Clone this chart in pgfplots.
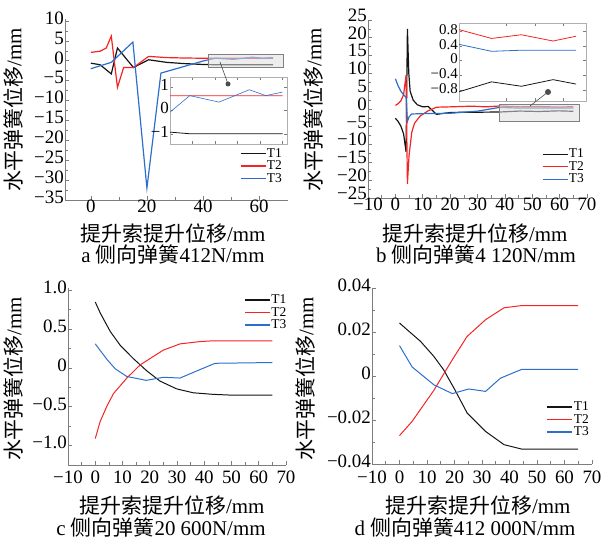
\documentclass[border=0pt]{standalone}
\usepackage{fontspec}
\setmainfont{Liberation Serif}
\newfontfamily\cjk{Noto Sans CJK SC}
\usepackage{pgfplots}
\pgfplotsset{compat=1.18}
\definecolor{cT1}{RGB}{20,20,20}
\definecolor{cT2}{RGB}{245,35,35}
\definecolor{cT3}{RGB}{45,110,205}
\definecolor{axgray}{RGB}{125,125,125}
\definecolor{ingray}{RGB}{175,175,175}
\pgfplotsset{
 mainax/.style={
  scale only axis, anchor=south west,
  axis x line*=bottom, axis y line*=left,
  axis line style={draw=axgray, line width=0.7pt},
  tick align=inside,
  major tick length=4bp, minor tick length=2.5bp,
  every tick/.style={draw=axgray, line width=0.6pt},
  minor tick num=1,
  scaled ticks=false,
  tick label style={font=\fontsize{19}{19}\selectfont, text=black, text height=0.66em, text depth=0pt},
  yticklabel style={inner sep=1bp},
  xticklabel style={inner sep=1bp, yshift=-5bp},
  legend style={draw=none, fill=none, inner sep=0pt, outer sep=0pt,
    font=\fontsize{13.5}{13.5}\selectfont, nodes={inner sep=0.8bp},
    row sep=0.5bp},
  legend cell align=left,
  legend image code/.code={\draw[##1, line width=1.1pt] (0bp,0bp) -- (25bp,0bp);},
 },
 inax/.style={
  scale only axis, anchor=south west,
  axis background/.style={fill=white},
  axis line style={draw=ingray, line width=0.6pt},
  tick align=inside,
  major tick length=3bp,
  every tick/.style={draw=axgray, line width=0.5pt},
  xticklabels={},
  scaled ticks=false,
  tick label style={font=\fontsize{17}{17}\selectfont, text=black, text height=0.66em, text depth=0pt},
  yticklabel style={inner sep=1bp},
 },
 l1/.style={cT1, line width=1.2pt},
 l2/.style={cT2, line width=1.2pt},
 l3/.style={cT3, line width=1.2pt},
 s1/.style={cT1, line width=1.0pt},
 s2/.style={cT2, line width=1.0pt},
 s3/.style={cT3, line width=1.0pt},
}
\pgfplotstableread{
x y
0 -0.6
3.3 -1.0
7.3 -3.3
9.5 3.2
15.2 -1.7
20.6 0.25
27 -0.4
33 -0.7
40 -0.93
44.4 -1.0
50.9 -1.0
57.6 -1.0
65 -1.0
}\aone
\pgfplotstableread{
x y
0 2.1
3.3 2.4
5.5 3.2
7.3 6.2
9.5 -6.7
11.7 -1.7
15.2 -1.7
20.6 1.1
27 0.8
33 0.7
40 0.63
65 0.63
}\atwo
\pgfplotstableread{
x y
0 -2.0
7.3 -0.4
15 4.7
20 -32
25 -3.1
40 -0.07
44.4 0.64
50.9 0.36
57.6 0.89
61.3 0.64
65 0.79
}\athree
\pgfplotstableread{
x y
0 -2.6
1 -3.5
2 -4.8
3 -7
3.9 -12
4.4 22.5
4.9 10
5.4 5
6.5 2.5
8 1.2
10 0.6
12 0.7
15 -1.5
20 -1.0
25 -0.9
30 -0.9
38 -0.85
45.5 -0.58
52.4 -0.7
59.7 -0.52
65 -0.64
}\bone
\pgfplotstableread{
x y
0 1
1 1.5
2 2.3
3 4
3.9 9.5
4.4 -21
5 -13
6 -6.5
7 -4
9 -2
12 -0.5
15 0.5
20 0.6
28 0.8
33 0.6
38 0.84
45.5 0.6
52.4 0.7
59.7 0.53
65 0.66
}\btwo
\pgfplotstableread{
x y
0 8.5
1 6.5
2 5
3 4
3.9 3.3
4.4 -3.5
5 -2.2
6 -1.4
10 -1.3
20 -1.2
30 -0.6
38 0.44
45.5 0.25
52.4 0.28
59.7 0.28
65 0.28
}\bthree
\begin{document}
\begin{tikzpicture}
\useasboundingbox (0bp,0bp) rectangle (605bp,543bp);
% ---------- panel a ----------
\begin{axis}[mainax, at={(65bp,343bp)}, width=223bp, height=181bp,
  xmin=-9.2, xmax=70.3, ymin=-35, ymax=10.5,
  xtick={0,20,40,60}, xticklabels={0,20,40,60},
  ytick={-35,-30,-25,-20,-15,-10,-5,0,5,10},
  yticklabels={−35,−30,−25,−20,−15,−10,−5,0,5,10},
  legend style={at={(rel axis cs:0.785,0.29)}, anchor=north west}]
\addplot[l1] table {\aone};
\addplot[l2] table {\atwo};
\addplot[l3] table {\athree};
\legend{T1,T2,T3}
\draw[draw=gray, fill=gray!25, fill opacity=0.55] (axis cs:41.9,-1.5) rectangle (axis cs:68.7,1.6);
\end{axis}
\begin{axis}[inax, at={(170bp,399bp)}, width=117bp, height=67bp,
  xmin=40, xmax=66, ymin=-1.44, ymax=1.44,
  xtick={45,50,55,60,65}, ytick={-1,0,1}, yticklabels={−1,0,1}]
\addplot[cT1, line width=0.8pt] table {\aone};
\addplot[cT2, line width=0.8pt] table {\atwo};
\addplot[cT3, line width=0.6pt] table {\athree};
\end{axis}
\draw[gray!60!black, line width=0.6pt] (220bp,481bp) -- (228bp,459bp);
\fill[gray!60!black] (228bp,459bp) circle (2.5bp);
% ---------- panel b ----------
\begin{axis}[mainax, at={(368bp,345bp)}, width=219bp, height=178bp,
  xmin=-10, xmax=70, ymin=-25, ymax=25,
  yticklabel style={yshift=2bp},
  xtick={-10,0,10,20,30,40,50,60,70}, xticklabels={−10,0,10,20,30,40,50,60,70},
  ytick={-25,-20,-15,-10,-5,0,5,10,15,20,25},
  yticklabels={−25,−20,−15,−10,−5,0,5,10,15,20,25},
  legend style={at={(rel axis cs:0.795,0.28)}, anchor=north west}]
\addplot[l1] table {\bone};
\addplot[l2] table {\btwo};
\addplot[l3] table {\bthree};
\legend{T1,T2,T3}
\draw[draw=gray, fill=gray!25, fill opacity=0.55] (axis cs:37.9,-3.4) rectangle (axis cs:67.3,1.4);
\end{axis}
\begin{axis}[inax, at={(459bp,442bp)}, width=127bp, height=78bp,
  xmin=38, xmax=67.3, ymin=-1.1, ymax=1.02,
  tick label style={font=\fontsize{15}{15}\selectfont},
  xtick={49,55.5,62}, ytick={-0.8,-0.4,0,0.4,0.8}, yticklabels={−0.8,−0.4,0,0.4,0.8}]
\addplot[cT1, line width=0.8pt] table {\bone};
\addplot[cT2, line width=0.8pt] table {\btwo};
\addplot[cT3, line width=0.8pt] table {\bthree};
\end{axis}
\draw[gray!60!black, line width=0.6pt] (530bp,437bp) -- (548bp,451bp);
\fill[gray!60!black] (548bp,451bp) circle (3bp);
% ---------- panel c ----------
\begin{axis}[mainax, at={(68bp,78bp)}, width=218bp, height=177bp,
  xmin=-10, xmax=70, ymin=-1.25, ymax=1.03,
  xticklabel style={yshift=-6bp},
  xtick={-10,0,10,20,30,40,50,60,70}, xticklabels={−10,0,10,20,30,40,50,60,70},
  ytick={-1,-0.5,0,0.5,1}, yticklabels={−1.0,−0.5,0,0.5,1.0},
  legend style={at={(rel axis cs:0.81,0.966)}, anchor=north west}]
\addplot[s1] coordinates {(0,0.85) (1.8,0.71) (5.5,0.47) (9.2,0.29) (14,0.12) (19,-0.04) (23.8,-0.17) (29.9,-0.27) (36,-0.32) (43.3,-0.34) (50,-0.35) (65,-0.35)};
\addplot[s2] coordinates {(0,-0.91) (1.8,-0.69) (4.3,-0.49) (6.7,-0.33) (11.6,-0.13) (16.5,0.04) (21.4,0.15) (25,0.23) (31.1,0.31) (38.5,0.34) (43.3,0.35) (65,0.35)};
\addplot[s3] coordinates {(0,0.31) (4.3,0.11) (7.3,-0.01) (11.6,-0.11) (18.7,-0.16) (25,-0.12) (31.1,-0.13) (38.5,-0.02) (44,0.06) (65,0.07)};
\legend{T1,T2,T3}
\end{axis}
% ---------- panel d ----------
\begin{axis}[mainax, at={(372bp,79bp)}, width=220bp, height=176bp,
  xmin=-10, xmax=70, ymin=-0.04, ymax=0.04,
  xticklabel style={yshift=-7bp},
  xtick={-10,0,10,20,30,40,50,60,70}, xticklabels={−10,0,10,20,30,40,50,60,70},
  ytick={-0.04,-0.02,0,0.02,0.04}, yticklabels={−0.04,−0.02,0,0.02,0.04},
  legend style={at={(rel axis cs:0.795,0.358)}, anchor=north west}]
\addplot[s1] coordinates {(0,0.0241) (2.8,0.021) (7.6,0.0158) (12.5,0.0089) (16,0.0029) (19.8,-0.0055) (24.6,-0.0168) (31.3,-0.0252) (38,-0.0312) (44.4,-0.0332) (65,-0.0332)};
\addplot[s2] coordinates {(0,-0.0271) (4.6,-0.0206) (12.5,-0.0065) (19.2,0.0074) (24.6,0.018) (31.3,0.0256) (38,0.031) (44.4,0.032) (65,0.032)};
\addplot[s3] coordinates {(0,0.0138) (4.6,0.0041) (12.5,-0.004) (19.2,-0.008) (25.2,-0.0059) (31.3,-0.007) (36.7,-0.001) (44.4,0.003) (65,0.003)};
\legend{T1,T2,T3}
\end{axis}
% ---------- labels ----------
\begin{scope}[every node/.style={font=\fontsize{21}{21}\selectfont, inner sep=0pt, text height=0.78em, text depth=0.12em}]
\node[rotate=90] at (18bp,433bp) {{\cjk 水平弹簧位移}/mm};
\node[rotate=90] at (318bp,433bp) {{\cjk 水平弹簧位移}/mm};
\node[rotate=90] at (18bp,164bp) {{\cjk 水平弹簧位移}/mm};
\node[rotate=90] at (310bp,164bp) {{\cjk 水平弹簧位移}/mm};
\node at (173bp,305bp) {{\cjk 提升索提升位移}/mm};
\node at (475bp,305bp) {{\cjk 提升索提升位移}/mm};
\node at (172bp,33bp) {{\cjk 提升索提升位移}/mm};
\node at (478bp,33bp) {{\cjk 提升索提升位移}/mm};
\node at (173bp,284bp) {a {\cjk 侧向弹簧}412N/mm};
\node at (476bp,284bp) {b {\cjk 侧向弹簧}4 120N/mm};
\node at (161bp,11bp) {c {\cjk 侧向弹簧}20 600N/mm};
\node at (465bp,11bp) {d {\cjk 侧向弹簧}412 000N/mm};
\end{scope}
\end{tikzpicture}
\end{document}
